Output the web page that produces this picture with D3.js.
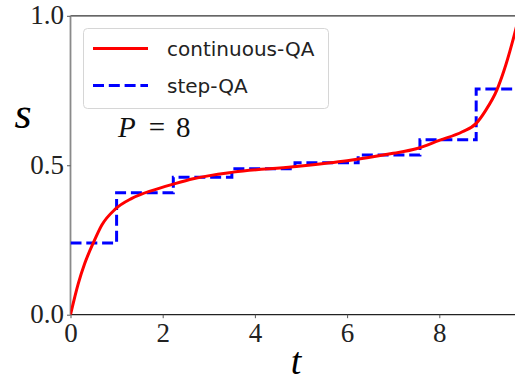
<!DOCTYPE html>
<html>
<head>
<meta charset="utf-8">
<script src="https://cdn.jsdelivr.net/npm/d3@7"></script>
<style>
  body { margin: 0; background: #fff; }
  svg { display: block; }
</style>
</head>
<body>
<script>
// continuous schedule s(t)
const curveT = [0, 0.17, 0.31, 0.5, 0.68, 0.97, 1.33, 1.8, 2.23, 2.66, 3.53, 4.83, 6.0, 7.0, 7.5, 8.0, 8.5, 8.8, 9.0, 9.25, 9.4, 9.6, 9.7, 9.8];
const curveS = [0, 0.105, 0.172, 0.242, 0.30, 0.353, 0.389, 0.417, 0.437, 0.455, 0.477, 0.495, 0.515, 0.54, 0.555, 0.583, 0.612, 0.64, 0.682, 0.752, 0.815, 0.92, 0.98, 1.04];

// step-QA: P = 8 plateaus
const stepEdges = [0, 1.0, 2.23, 3.50, 4.87, 6.24, 7.58, 8.80, 10];
const stepValues = [0.24, 0.408, 0.46, 0.488, 0.508, 0.534, 0.585, 0.755];

const xTicks = [0, 2, 4, 6, 8];
const yTicks = [0, 0.5, 1.0];
const legendLabels = ["continuous-QA", "step-QA"];

const W = 515, H = 384;
const plotLeft = 70.5, plotTop = 15.8, plotBottom = 314.7;

const svg = d3.select("body").append("svg")
  .attr("width", W).attr("height", H);

const x = d3.scaleLinear().domain([0, 10]).range([plotLeft, plotLeft + 461]);
const y = d3.scaleLinear().domain([0, 1]).range([plotBottom, plotTop]);

svg.append("defs").append("clipPath").attr("id", "plot")
  .append("rect").attr("x", plotLeft).attr("y", plotTop)
  .attr("width", W - plotLeft).attr("height", plotBottom - plotTop);

const serif = "'Liberation Serif', 'DejaVu Serif', serif";
const sans = "'DejaVu Sans', sans-serif";

// spines
svg.append("line").attr("x1", plotLeft).attr("x2", W).attr("y1", plotTop).attr("y2", plotTop)
  .attr("stroke", "#333").attr("stroke-width", 1.2);
svg.append("line").attr("x1", plotLeft).attr("x2", W).attr("y1", plotBottom).attr("y2", plotBottom)
  .attr("stroke", "#222").attr("stroke-width", 1.2);
svg.append("line").attr("x1", plotLeft).attr("x2", plotLeft).attr("y1", plotTop).attr("y2", plotBottom)
  .attr("stroke", "#8a8a8a").attr("stroke-width", 1.8);

// x axis
const xAxis = svg.append("g").attr("transform", `translate(0,${plotBottom})`)
  .call(d3.axisBottom(x).tickValues(xTicks).tickSize(3.5).tickPadding(5).tickFormat(d3.format("d")));
xAxis.select(".domain").remove();
xAxis.selectAll("line").attr("stroke", "#555");
xAxis.selectAll("text").attr("font-family", serif).attr("font-size", 27).attr("fill", "#222");

// y axis
const yAxis = svg.append("g").attr("transform", `translate(${plotLeft},0)`)
  .call(d3.axisLeft(y).tickValues(yTicks).tickSize(3.5).tickPadding(3).tickFormat(d3.format(".1f")));
yAxis.select(".domain").remove();
yAxis.selectAll("line").attr("stroke", "#555");
yAxis.selectAll("text").attr("font-family", serif).attr("font-size", 27).attr("fill", "#222").attr("dy", "0.3em");

// axis labels
svg.append("text").attr("x", 296).attr("y", 374).attr("text-anchor", "middle")
  .attr("font-family", serif).attr("font-style", "italic").attr("font-size", 38).text("t");
svg.append("text").attr("x", 23).attr("y", 128).attr("text-anchor", "middle")
  .attr("font-family", serif).attr("font-style", "italic").attr("font-size", 44).text("s");

const plot = svg.append("g").attr("clip-path", "url(#plot)");

// step-QA
const stepPts = stepValues.map((v, i) => [stepEdges[i], v]);
stepPts.push([stepEdges[stepEdges.length - 1], stepValues[stepValues.length - 1]]);
plot.append("path")
  .datum(stepPts)
  .attr("d", d3.line().x(d => x(d[0])).y(d => y(d[1])).curve(d3.curveStepAfter))
  .attr("fill", "none").attr("stroke", "#0000ff").attr("stroke-width", 3)
  .attr("stroke-dasharray", "11,4.8");

// continuous-QA
plot.append("path")
  .datum(curveT.map((t, i) => [t, curveS[i]]))
  .attr("d", d3.line().x(d => x(d[0])).y(d => y(d[1])).curve(d3.curveMonotoneX))
  .attr("fill", "none").attr("stroke", "#ff0000").attr("stroke-width", 3);

// P = 8 annotation
const ann = svg.append("text").attr("x", 118).attr("y", 137)
  .attr("font-family", serif).attr("font-size", 29).attr("fill", "#111");
ann.append("tspan").attr("font-style", "italic").text("P");
ann.append("tspan").attr("dx", 13).text("=");
ann.append("tspan").attr("dx", 11).text("8");

// legend
const lg = svg.append("g");
lg.append("rect").attr("x", 83.5).attr("y", 28.5).attr("width", 245).attr("height", 80)
  .attr("rx", 4).attr("fill", "#fff").attr("fill-opacity", 0.85)
  .attr("stroke", "#d6d6d6").attr("stroke-width", 1);
const styles = [
  { color: "#ff0000", dash: null },
  { color: "#0000ff", dash: "11,4.8" }
];
legendLabels.forEach((lab, i) => {
  const ly = 48.5 + i * 37;
  lg.append("line").attr("x1", 93).attr("x2", 148).attr("y1", ly).attr("y2", ly)
    .attr("stroke", styles[i].color).attr("stroke-width", 3)
    .attr("stroke-dasharray", styles[i].dash);
  lg.append("text").attr("x", 167).attr("y", ly + 7.5)
    .attr("font-family", sans).attr("font-size", 20).attr("fill", "#222").text(lab);
});
</script>
</body>
</html>
